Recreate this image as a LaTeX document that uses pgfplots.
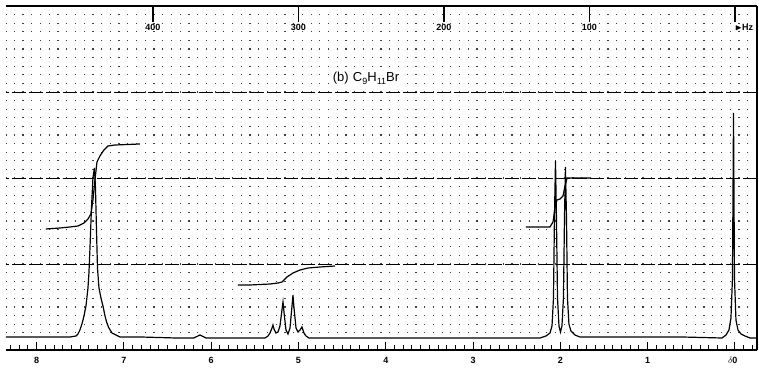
\documentclass[border=0pt]{standalone}
\usepackage{pgfplots}
\pgfplotsset{compat=1.18}
\usepackage{amssymb}
\usepackage{fontspec}
\setmainfont{Liberation Sans}
\newcommand{\sub}[1]{\raisebox{-0.45ex}{\fontsize{9}{10}\selectfont #1}}
\begin{document}
\begin{tikzpicture}
\begin{axis}[
  at={(0,0)}, anchor=south west,
  scale only axis, width=751pt, height=344pt,
  xmin=-0.252, xmax=8.35, x dir=reverse,
  ymin=-12, ymax=332,
  clip mode=individual,
  axis x line*=bottom, axis y line*=right,
  axis line style={black, line width=1.5pt},
  xtick={0,1,2,3,4,5,6,7,8},
  xticklabels={\llap{$\delta$}0,1,2,3,4,5,6,7,8},
  minor xtick={-0.2,-0.1,...,8.31},
  tick align=inside,
  major tick length=8pt, minor tick length=5pt,
  tick style={black, line width=1pt},
  ytick={74,160,246}, yticklabels={},
  ytick style={draw=none}, minor y tick style={draw=none},
  minor ytick={5.2,13.8,...,332},
  ymajorgrids, yminorgrids,
  major grid style={black, line width=0.9pt, dash pattern=on 14pt off 3pt},
  minor grid style={black!75, line width=1.2pt, dash pattern=on 1.2pt off 7.53pt},
  xticklabel style={font=\bfseries\small, yshift=-4pt},
  /pgf/number format/assume math mode=true,
]
% spectrum
\addplot[black, line width=1.2pt] coordinates {
(8.35,1) (8.0,1) (7.8,1) (7.617,1) (7.549,2) (7.526,4) (7.503,8) (7.480,14) (7.457,22) (7.434,32) (7.411,50) (7.400,65) (7.388,90) (7.371,130) (7.354,160) (7.337,170) (7.325,150) (7.314,110) (7.302,70) (7.285,50) (7.262,40) (7.239,32) (7.216,22) (7.194,15) (7.171,10) (7.136,5) (7.090,3) (7.045,1) (6.8,1) (6.4,0) (6.20,0) (6.128,3) (6.06,0) (5.7,0) (5.384,0) (5.349,2) (5.326,5) (5.303,10) (5.292,13) (5.280,9) (5.257,5) (5.234,6) (5.212,12) (5.189,28) (5.177,36) (5.166,26) (5.143,8) (5.120,4) (5.097,10) (5.074,32) (5.063,43) (5.051,30) (5.028,10) (5.005,6) (4.982,8) (4.960,11) (4.937,5) (4.914,2) (4.880,0) (4.0,0) (3.0,0) (2.5,0) (2.234,0) (2.165,2) (2.119,5) (2.096,12) (2.079,40) (2.068,120) (2.056,177) (2.045,120) (2.033,40) (2.016,12) (1.999,6) (1.982,12) (1.965,40) (1.953,120) (1.942,171) (1.930,120) (1.919,40) (1.902,14) (1.879,7) (1.833,3) (1.776,1) (1.2,1) (0.6,1) (0.149,0) (0.103,3) (0.069,8) (0.046,20) (0.029,60) (0.017,225) (0.006,60) (-0.011,18) (-0.034,8) (-0.069,4) (-0.115,2) (-0.172,0) (-0.252,0)
};
% integrals
\addplot[black, line width=1.2pt] coordinates {
(7.893,109) (7.732,110) (7.618,111) (7.526,112) (7.457,115) (7.411,119) (7.377,124) (7.354,138) (7.331,158) (7.308,176) (7.274,182) (7.228,188) (7.182,192) (7.102,193) (6.816,194)
};
\addplot[black, line width=1.2pt] coordinates {
(5.693,53) (5.556,53) (5.326,54) (5.234,55) (5.189,56) (5.132,61) (5.063,65) (4.982,68) (4.891,70) (4.754,71) (4.582,72)
};
\addplot[black, line width=1.2pt] coordinates {
(2.394,111) (2.119,111) (2.085,116) (2.062,130) (2.039,138) (2.005,139) (1.970,142) (1.947,152) (1.924,160) (1.890,160) (1.661,160)
};
\node[font=\fontsize{13}{15}\selectfont, fill=white, inner sep=1.5pt] at (axis cs:4.227,260) {(b)\,\,C\sub{9}H\sub{11}Br};
\draw[black, line width=1.5pt] (axis cs:-0.252,332) -- (axis cs:8.35,332);
\end{axis}
\begin{axis}[
  at={(0,0)}, anchor=south west,
  scale only axis, width=751pt, height=344pt,
  xmin=-15.12, xmax=501, x dir=reverse,
  ymin=0, ymax=1,
  hide y axis, axis x line*=top,
  axis line style={draw=none},
  xtick={0,100,200,300,400},
  xticklabels={\rlap{$\blacktriangleright$Hz},100,200,300,400},
  minor x tick num=0,
  tick align=inside, major tick length=16pt,
  tick style={black, line width=1.2pt},
  xticklabel style={anchor=north, yshift=-15pt, font=\bfseries\small},
  /pgf/number format/assume math mode=true,
]
\end{axis}
\pgfresetboundingbox
\path[use as bounding box] (-6pt,-22pt) rectangle (753pt,350pt);
\end{tikzpicture}
\end{document}
